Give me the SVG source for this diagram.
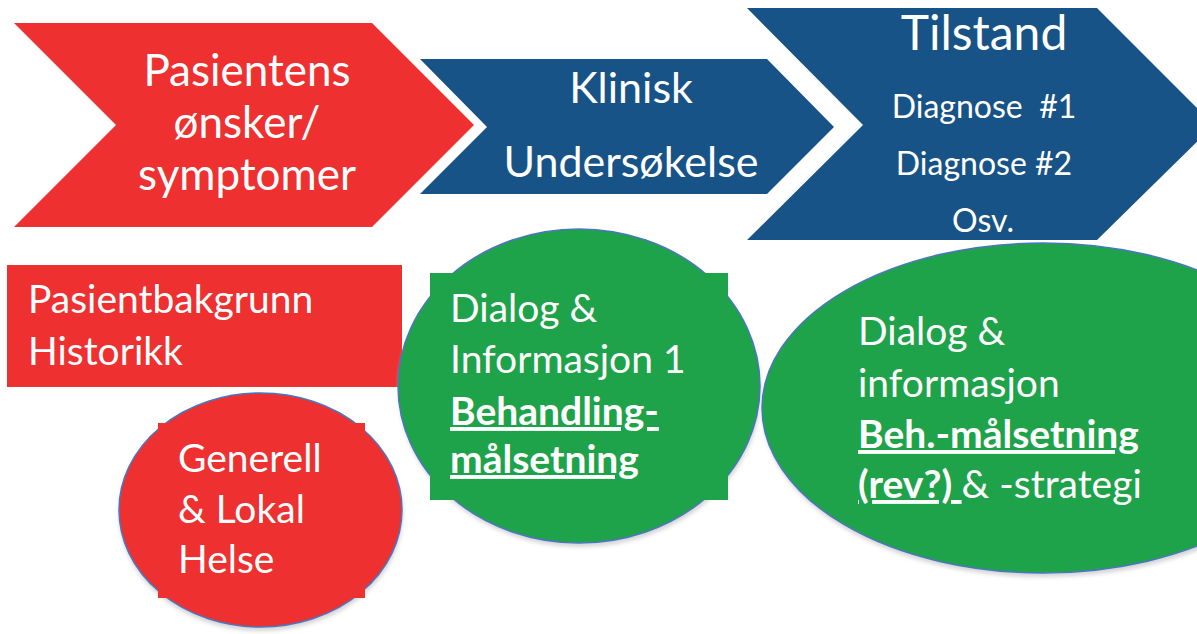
<svg xmlns="http://www.w3.org/2000/svg" width="1197" height="634" viewBox="0 0 1197 634">
<style>
.t{font-family:Lato,"Open Sans","Liberation Sans",sans-serif;fill:#fff}
.c{text-anchor:middle}
.b{font-weight:bold}
.u{text-decoration:underline}
.red{fill:#EE3030}
.blue{fill:#175386}
.green{fill:#1FA34A}
.edge{stroke:#4A76C0;stroke-width:1.5}
.shadow{fill:#d4d4d4;filter:url(#blur)}
</style>
<defs>
<filter id="blur" x="-10%" y="-10%" width="120%" height="120%"><feGaussianBlur stdDeviation="2"/></filter>
</defs>
<rect width="1197" height="634" fill="#fff"/>
<g id="chevron-pasientens">
<polygon class="red" points="14,23 372,23 474,125 372,227 14,227 116,125"/>
<text class="t c" font-size="44"><tspan x="247" y="86">Pasientens</tspan><tspan x="247" y="138">ønsker/</tspan><tspan x="247" y="190">symptomer</tspan></text>
</g>
<g id="chevron-klinisk">
<polygon class="blue" points="420,59 767,59 834,127 767,194 420,194 487,127"/>
<text class="t c" font-size="43"><tspan x="631" y="103">Klinisk</tspan><tspan x="631" y="177">Undersøkelse</tspan></text>
</g>
<g id="chevron-tilstand">
<polygon class="blue" points="747,8 1097,8 1214,125 1097,240 747,240 863,125"/>
<text class="t c" font-size="48" x="984" y="50">Tilstand</text>
<text class="t c" font-size="32" xml:space="preserve"><tspan x="984" y="118">Diagnose  #1</tspan><tspan x="984" y="175">Diagnose #2</tspan><tspan x="983" y="232">Osv.</tspan></text>
</g>
<g id="pasientbakgrunn">
<rect class="red" x="7" y="265" width="395" height="122"/>
<text class="t" font-size="39"><tspan x="28" y="313">Pasientbakgrunn</tspan><tspan x="28" y="365">Historikk</tspan></text>
</g>
<g id="generell-helse">
<ellipse class="shadow" cx="261" cy="514" rx="142" ry="117"/>
<ellipse class="red edge" cx="260.5" cy="510" rx="141.5" ry="117"/>
<rect class="red" x="158" y="423" width="207" height="175"/>
<text class="t" font-size="39"><tspan x="178" y="472">Generell</tspan><tspan x="178" y="523">&amp; Lokal</tspan><tspan x="178" y="573">Helse</tspan></text>
</g>
<g id="dialog-1">
<ellipse class="shadow" cx="580" cy="390" rx="181" ry="157"/>
<ellipse class="green edge" cx="579" cy="386" rx="181" ry="157"/>
<rect class="green" x="430" y="273" width="298" height="227"/>
<text class="t" font-size="39"><tspan x="450" y="322">Dialog &amp;</tspan><tspan x="450" y="373">Informasjon 1</tspan><tspan class="b u" x="450" y="425">Behandling-</tspan><tspan class="b u" x="450" y="473">målsetning</tspan></text>
</g>
<g id="dialog-2">
<ellipse class="shadow" cx="1044" cy="412" rx="281" ry="165"/>
<ellipse class="green edge" cx="1043" cy="408" rx="281" ry="165"/>
<text class="t" font-size="39" xml:space="preserve"><tspan x="858" y="345">Dialog &amp;</tspan><tspan x="858" y="397">informasjon</tspan><tspan class="b u" x="858" y="448">Beh.-målsetning</tspan><tspan x="858" y="498"><tspan class="b u">(rev?) </tspan>&amp; -strategi</tspan></text>
</g>
<g id="connectors"/>
</svg>
